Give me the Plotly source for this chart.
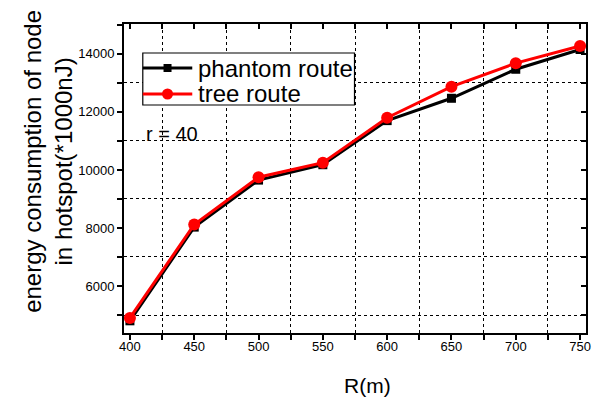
import plotly.graph_objects as go

# Network radius R (m)
radius = [400, 450, 500, 550, 600, 650, 700, 750]

# Energy consumption of the hotspot node (*1000 nJ)
phantom_route = [4800, 8030, 9650, 10180, 11700, 12470, 13470, 14150]
tree_route = [4900, 8120, 9750, 10250, 11800, 12870, 13680, 14270]

x_ticks = [400, 450, 500, 550, 600, 650, 700, 750]
x_grid = [425, 475, 525, 575, 625, 675, 725]
y_ticks = [6000, 8000, 10000, 12000, 14000]
y_grid = [5000, 7000, 9000, 11000, 13000]

FONT = "Arial, Liberation Sans, sans-serif"
X_RANGE = [395.4, 754.6]
Y_RANGE = [4380, 15030]

W, H = 602, 397
L, R, T, B = 124, 11, 24, 64
PW, PH = W - L - R, H - T - B


def px(xp):
    """Horizontal pixel -> paper coordinate."""
    return (xp - L) / PW


def py(yp):
    """Vertical pixel (from top) -> paper coordinate."""
    return (H - B - yp) / PH


SERIES = [
    dict(name="phantom route", y=phantom_route, color="black", symbol="square", size=9),
    dict(name="tree route", y=tree_route, color="#ff0000", symbol="circle", size=12),
]

fig = go.Figure()
for s in SERIES:
    fig.add_trace(go.Scatter(
        x=radius, y=s["y"], name=s["name"], mode="lines+markers",
        line=dict(color=s["color"], width=3),
        marker=dict(symbol=s["symbol"], size=s["size"], color=s["color"]),
        showlegend=False,
    ))

grid = dict(showgrid=True, gridcolor="black", griddash="dot", gridwidth=1)
tick = dict(ticklen=5, tickwidth=1.5, tickcolor="black")

# Bottom axis: labels only (tick marks come from an overlay axis below)
fig.update_xaxes(
    range=X_RANGE, tickvals=x_ticks, ticktext=[str(v) for v in x_ticks],
    showgrid=False, zeroline=False,
    showline=True, linecolor="black", linewidth=2, ticks="",
    tickfont=dict(family=FONT, size=13, color="black"),
    minor=dict(tickvals=x_grid, ticks="", **grid),
)
fig.update_yaxes(
    range=Y_RANGE, tickvals=y_ticks, ticktext=[str(v) for v in y_ticks],
    showgrid=False, zeroline=False,
    showline=True, linecolor="black", linewidth=2, ticks="outside", **tick,
    tickfont=dict(family=FONT, size=13, color="black"),
    minor=dict(tick0=5000, dtick=2000, ticks="outside", **tick, **grid),
)

# Frame axes: outward ticks at the bottom, inward ticks on top and right
frame = dict(showline=True, linecolor="black", linewidth=2, showgrid=False,
             zeroline=False, showticklabels=False, **tick)
fig.update_layout(
    xaxis2=dict(overlaying="x", side="top", range=X_RANGE,
                tickvals=x_ticks + x_grid, ticks="inside", **frame),
    yaxis2=dict(overlaying="y", side="right", range=Y_RANGE,
                tickvals=y_ticks + y_grid, ticks="inside", **frame),
    xaxis3=dict(overlaying="x", side="bottom", range=X_RANGE,
                tickvals=x_ticks + x_grid, ticks="outside", **frame),
)
fig.add_trace(go.Scatter(x=[None], y=[None], xaxis="x2", yaxis="y2",
                         showlegend=False, hoverinfo="skip"))
fig.add_trace(go.Scatter(x=[None], y=[None], xaxis="x3", yaxis="y",
                         showlegend=False, hoverinfo="skip"))

# Legend box drawn by hand
shapes = [dict(type="rect", xref="paper", yref="paper",
               x0=px(143), x1=px(357), y0=py(105), y1=py(53),
               line=dict(color="black", width=1.2), fillcolor="white", layer="above")]
annotations = []
for i, s in enumerate(SERIES):
    row_y = 68 + i * 26
    shapes.append(dict(type="line", xref="paper", yref="paper",
                       x0=px(143), x1=px(193), y0=py(row_y), y1=py(row_y),
                       line=dict(color=s["color"], width=3), layer="above"))
    half = 4 if s["symbol"] == "square" else 5.5
    shapes.append(dict(type="rect" if s["symbol"] == "square" else "circle",
                       xref="paper", yref="paper",
                       xsizemode="pixel", ysizemode="pixel",
                       xanchor=px(168), yanchor=py(row_y),
                       x0=-half, x1=half, y0=-half, y1=half,
                       fillcolor=s["color"], line=dict(width=0), layer="above"))
    annotations.append(dict(text=s["name"], xref="paper", yref="paper",
                            x=px(197), y=py(row_y), xanchor="left", yanchor="middle",
                            showarrow=False,
                            font=dict(family=FONT, size=24, color="black")))

annotations += [
    dict(text="energy consumption of node<br>in hotspot(*1000nJ)",
         xref="paper", yref="paper", x=px(47), y=py(161),
         xanchor="center", yanchor="middle", textangle=-90,
         showarrow=False, font=dict(family=FONT, size=24, color="black")),
    dict(text="R(m)", xref="paper", yref="paper", x=px(370), y=py(385),
         xanchor="center", yanchor="middle", showarrow=False,
         font=dict(family=FONT, size=21, color="black")),
    dict(text="r = 40", xref="paper", yref="paper", x=px(144), y=py(134),
         xanchor="left", yanchor="middle", showarrow=False,
         font=dict(family=FONT, size=20, color="black")),
]

fig.update_layout(
    width=W, height=H,
    margin=dict(l=L, r=R, t=T, b=B),
    paper_bgcolor="white", plot_bgcolor="white",
    font=dict(family=FONT, color="black"),
    showlegend=False,
    shapes=shapes,
    annotations=annotations,
)

fig.write_html("out.html")
